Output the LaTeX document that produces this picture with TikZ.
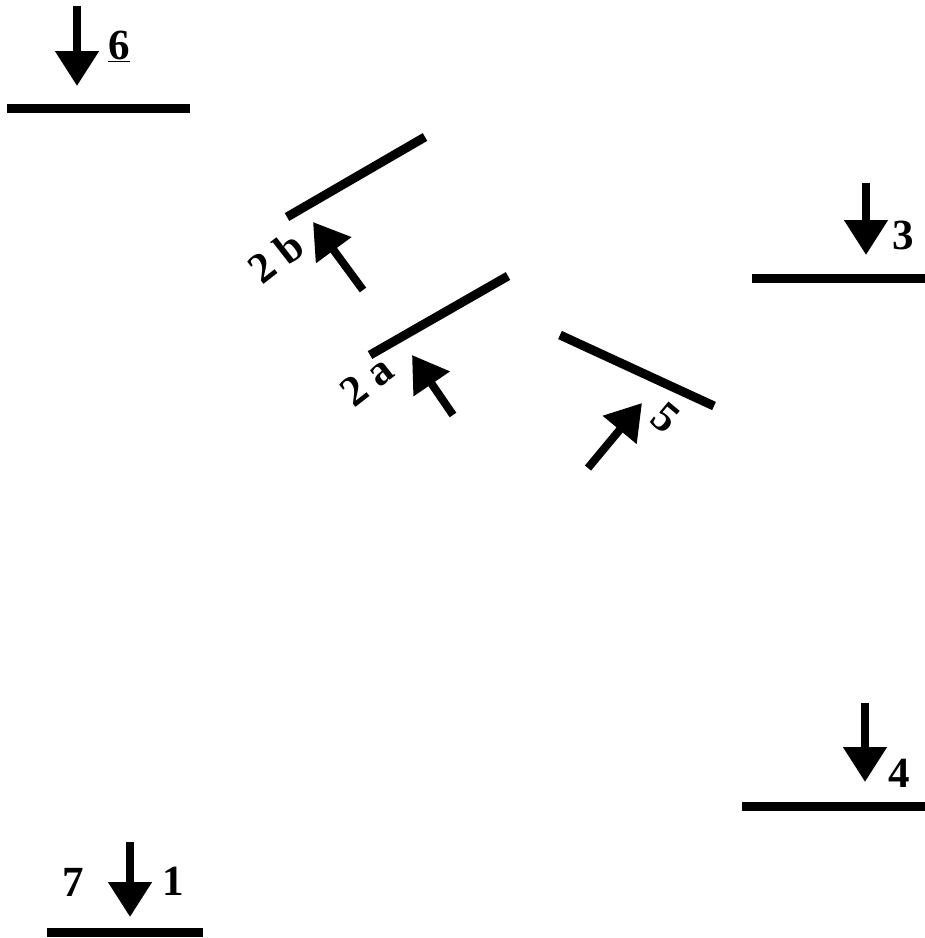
\documentclass[tikz,border=0pt]{standalone}
\usepackage{fontspec}
\setmainfont{Liberation Serif}
\usetikzlibrary{arrows.meta}
\tikzset{
  bar/.style={line width=9pt, line cap=butt},
  arr/.style={line width=8pt, -{Triangle[length=35pt,width=42pt]}},
  lbl/.style={font=\fontsize{43}{43}\selectfont\bfseries, inner sep=0pt}
}
\begin{document}
\begin{tikzpicture}[x=1pt,y=-1pt]
\useasboundingbox (0,0) rectangle (925,938);
% bars
\coordinate (b6a) at (7,108.5);   \coordinate (b6b) at (190,108.5);
\coordinate (b3a) at (752,278);   \coordinate (b3b) at (925,278);
\coordinate (b4a) at (742,806);   \coordinate (b4b) at (925,806);
\coordinate (b1a) at (47,932);    \coordinate (b1b) at (203,932);
\coordinate (l2ba) at (287,217);  \coordinate (l2bb) at (425,137);
\coordinate (l2aa) at (370,355);  \coordinate (l2ab) at (508,276);
\coordinate (l5a) at (560,335);   \coordinate (l5b) at (714,406);
\draw[bar] (b6a) -- (b6b);
\draw[bar] (b3a) -- (b3b);
\draw[bar] (b4a) -- (b4b);
\draw[bar] (b1a) -- (b1b);
\draw[bar] (l2ba) -- (l2bb);
\draw[bar] (l2aa) -- (l2ab);
\draw[bar] (l5a) -- (l5b);
% arrows
\coordinate (a6t) at (77,6);     \coordinate (a6h) at (77,86);
\coordinate (a3t) at (866,183);  \coordinate (a3h) at (866,255);
\coordinate (a4t) at (865,703);  \coordinate (a4h) at (865,782);
\coordinate (a1t) at (130,842);  \coordinate (a1h) at (130,917);
\coordinate (a2bt) at (363,290); \coordinate (a2bh) at (313,222);
\coordinate (a2at) at (453,415); \coordinate (a2ah) at (412,355);
\coordinate (a5t) at (588,468);  \coordinate (a5h) at (642,403);
\draw[arr] (a6t) -- (a6h);
\draw[arr] (a3t) -- (a3h);
\draw[arr] (a4t) -- (a4h);
\draw[arr] (a1t) -- (a1h);
\draw[arr] (a2bt) -- (a2bh);
\draw[arr] (a2at) -- (a2ah);
\draw[arr] (a5t) -- (a5h);
% labels
\node[lbl] (t6) at (119,46) {\underline{6}};
\node[lbl] (t3) at (903,235) {3};
\node[lbl] (t4) at (899,773) {4};
\node[lbl] (t7) at (73,882) {7};
\node[lbl] (t1) at (173,881) {1};
\node[lbl, rotate=38] (t2b) at (276,257) {2 b};
\node[lbl, rotate=38] (t2a) at (367,381) {2 a};
\node[lbl, rotate=-40] (t5) at (666,418) {5};
\end{tikzpicture}
\end{document}
